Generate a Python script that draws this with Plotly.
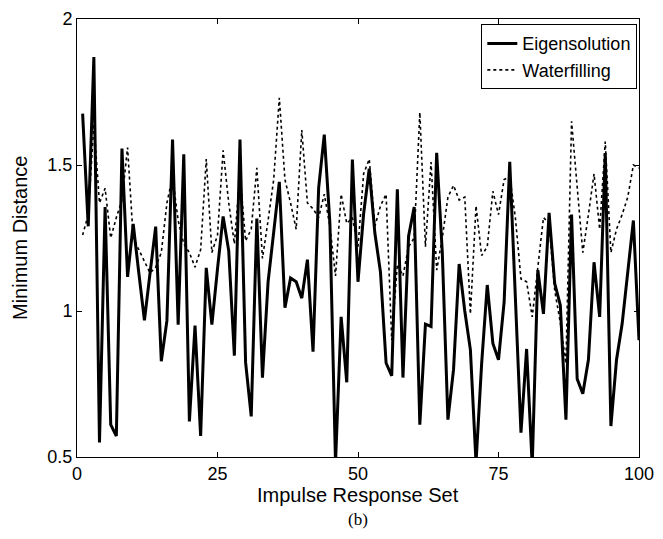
import plotly.graph_objects as go

impulse_set = list(range(1, 101))

eigensolution = [
    1.676, 1.29, 1.87, 0.55, 1.356, 0.611, 0.572, 1.556, 1.117, 1.298,
    1.13, 0.968, 1.13, 1.289, 0.828, 0.967, 1.587, 0.953, 1.537, 0.622,
    0.95, 0.572, 1.148, 0.953, 1.144, 1.324, 1.206, 0.847, 1.587, 0.824,
    0.639, 1.317, 0.772, 1.1, 1.27, 1.442, 1.011, 1.113, 1.1, 1.044,
    1.176, 0.861, 1.422, 1.604, 1.3, 0.48, 0.98, 0.756, 1.519, 1.1,
    1.333, 1.487, 1.267, 1.133, 0.822, 0.778, 1.417, 0.772, 1.256, 1.356,
    0.611, 0.955, 0.947, 1.542, 1.2, 0.628, 0.8, 1.161, 1.0, 0.867,
    0.48, 0.82, 1.089, 0.889, 0.833, 1.03, 1.511, 1.044, 0.583, 0.87,
    0.47, 1.14, 0.99, 1.336, 1.095, 1.02, 0.628, 1.33, 0.767, 0.717,
    0.833, 1.167, 0.98, 1.54, 0.606, 0.833, 0.956, 1.133, 1.31, 0.9,
]

waterfilling = [
    1.26, 1.33, 1.64, 1.37, 1.42, 1.25, 1.32, 1.38, 1.56, 1.25,
    1.21, 1.17, 1.13, 1.15, 1.20, 1.37, 1.46, 1.31, 1.23, 1.20,
    1.15, 1.21, 1.52, 1.20, 1.26, 1.55, 1.37, 1.23, 1.47, 1.24,
    1.28, 1.49, 1.18, 1.31, 1.45, 1.73, 1.45, 1.37, 1.28, 1.62,
    1.37, 1.35, 1.32, 1.40, 1.29, 1.12, 1.40, 1.30, 1.32, 1.22,
    1.47, 1.52, 1.29, 1.36, 1.40, 0.90, 1.16, 1.12, 1.22, 1.25,
    1.68, 1.22, 1.51, 1.14, 1.25, 1.39, 1.43, 1.38, 1.39, 0.99,
    1.36, 1.19, 1.22, 1.41, 1.33, 1.45, 1.46, 1.32, 1.11, 1.10,
    0.98, 1.15, 1.32, 1.30, 1.07, 0.96, 0.82, 1.65, 1.42, 1.20,
    1.33, 1.47, 1.28, 1.58, 1.20, 1.28, 1.33, 1.39, 1.50, 1.49,
]

x_ticks = [0, 25, 50, 75, 100]
y_ticks = [0.5, 1, 1.5, 2]
y_tick_text = ["0.5", "1", "1.5", "2"]

fig = go.Figure()
fig.add_trace(go.Scatter(
    x=impulse_set, y=eigensolution, mode="lines", name="Eigensolution",
    line=dict(color="black", width=3),
))
fig.add_trace(go.Scatter(
    x=impulse_set, y=waterfilling, mode="lines", name="Waterfilling",
    line=dict(color="black", width=1.6, dash="dot"),
))

font_family = "Liberation Sans, Arial, sans-serif"

fig.update_layout(
    width=663, height=539,
    margin=dict(l=77, r=15, t=9, b=82),
    paper_bgcolor="white", plot_bgcolor="white",
    font=dict(family=font_family, size=18, color="black"),
    showlegend=True,
    legend=dict(
        x=0.997, y=0.988, xanchor="right", yanchor="top",
        bordercolor="black", borderwidth=1, bgcolor="white",
        font=dict(size=18), tracegroupgap=0,
        itemwidth=30,
    ),
    xaxis=dict(
        range=[0, 100], tickvals=x_ticks,
        showline=True, linecolor="black", linewidth=1, mirror="ticks",
        ticks="inside", ticklen=5, tickcolor="black",
        showgrid=False, zeroline=False, ticklabeloverflow="allow",
    ),
    yaxis=dict(
        range=[0.5, 2], tickvals=y_ticks, ticktext=y_tick_text,
        showline=True, linecolor="black", linewidth=1, mirror="ticks",
        ticks="inside", ticklen=5, tickcolor="black",
        showgrid=False, zeroline=False, ticklabeloverflow="allow",
    ),
    annotations=[
        dict(
            text="Impulse Response Set", xref="paper", yref="paper",
            x=0.5, y=0, xanchor="center", yanchor="middle", yshift=-38,
            showarrow=False, font=dict(size=20),
        ),
        dict(
            text="Minimum Distance", xref="paper", yref="paper",
            x=0, y=0.5, xanchor="center", yanchor="middle", xshift=-57,
            textangle=-90, showarrow=False, font=dict(size=20),
        ),
        dict(
            text="(b)", xref="paper", yref="paper", x=0.5, y=0,
            xanchor="center", yanchor="middle", yshift=-62, showarrow=False,
            font=dict(family="Liberation Serif, Times New Roman, serif", size=17),
        ),
    ],
)

fig.write_html("out.html")
